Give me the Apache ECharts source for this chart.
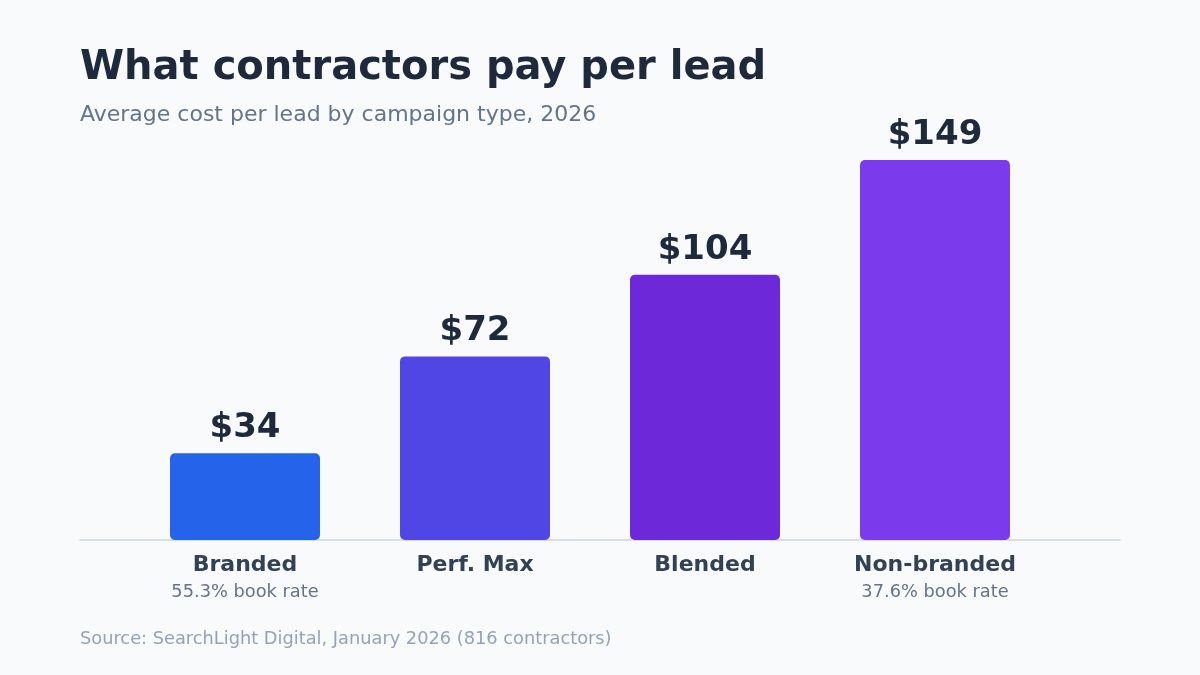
<!DOCTYPE html>
<html><head><meta charset="utf-8">
<script src="https://cdn.jsdelivr.net/npm/echarts@6/dist/echarts.min.js"></script>
<style>html,body{margin:0;padding:0;background:#f8fafc;font-family:'DejaVu Sans';}#c{width:1200px;height:675px;}</style>
</head><body><div id="c"></div>
<script>
const categories = ["Branded", "Perf. Max", "Blended", "Non-branded"];
const costPerLead = [34, 72, 104, 149];
const bookRates = ["55.3% book rate", "", "", "37.6% book rate"];
const barColors = ["#2563eb", "#4f46e5", "#6d28d9", "#7c3aed"];

const FONT = "'DejaVu Sans', sans-serif";
const chart = echarts.init(document.getElementById('c'), null, {renderer: 'canvas'});
chart.setOption({
  backgroundColor: '#f8fafc',
  textStyle: {fontFamily: FONT},
  title: [
    {text: 'What contractors pay per lead', left: 75, top: 44, padding: 5,
     textStyle: {fontFamily: FONT, fontSize: 40, fontWeight: 'bold', color: '#1e293b'}},
    {text: 'Average cost per lead by campaign type, 2026', left: 75, top: 99, padding: 5,
     textStyle: {fontFamily: FONT, fontSize: 22, fontWeight: 'normal', color: '#64748b'}},
    {text: 'Source: SearchLight Digital, January 2026 (816 contractors)', left: 75, top: 625, padding: 5,
     textStyle: {fontFamily: FONT, fontSize: 17.8, fontWeight: 'normal', color: '#94a3b8'}}
  ],
  grid: [
    {left: 130, right: 150, top: 132, bottom: 135},
    {left: 80, right: 80, top: 132, bottom: 135}
  ],
  xAxis: [
    {type: 'category', data: categories, gridIndex: 0,
     axisLine: {show: false}, axisTick: {show: false},
     axisLabel: {margin: 11, interval: 0,
       formatter: function (v, i) {
         return '{n|' + v + '}' + (bookRates[i] ? '\n{s|' + bookRates[i] + '}' : '');
       },
       rich: {
         n: {fontFamily: FONT, fontSize: 22, fontWeight: 'bold', color: '#334155', lineHeight: 28},
         s: {fontFamily: FONT, fontSize: 17.8, color: '#64748b', lineHeight: 26}
       }}},
    {type: 'value', gridIndex: 1, min: 0, max: 1,
     axisLine: {show: true, lineStyle: {color: '#cbd5e1', width: 1.5}},
     axisTick: {show: false}, axisLabel: {show: false}, splitLine: {show: false}}
  ],
  yAxis: [
    {type: 'value', gridIndex: 0, min: 0, max: 160, show: false, splitLine: {show: false}},
    {type: 'value', gridIndex: 1, min: 0, max: 1, show: false}
  ],
  series: [{
    type: 'bar', xAxisIndex: 0, yAxisIndex: 0, barWidth: 150, z: 3,
    data: costPerLead.map((v, i) => ({value: v, itemStyle: {color: barColors[i], borderRadius: 5}})),
    label: {show: true, position: 'top', distance: 8,
      formatter: p => '$' + p.value,
      fontFamily: FONT, fontSize: 34, fontWeight: 'bold', color: '#1e293b'}
  }]
});
</script></body></html>
